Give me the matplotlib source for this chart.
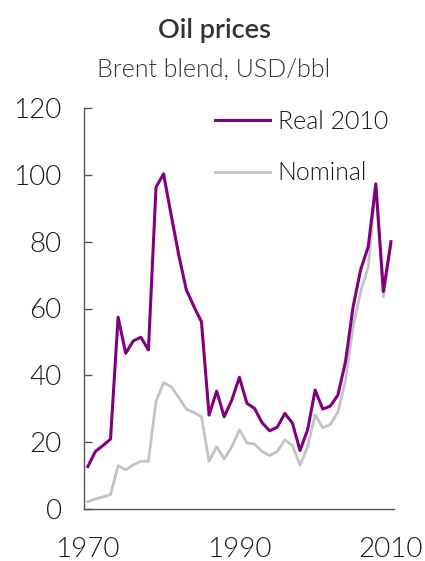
import matplotlib
matplotlib.use("Agg")
import matplotlib.pyplot as plt

years = list(range(1970, 2011))
real_2010 = [12.7, 17.2, 19.0, 20.9, 57.4, 46.6, 50.3, 51.4, 47.6, 96.3,
             100.3, 88.0, 76.0, 65.6, 60.6, 56.0, 28.1, 35.3, 27.6, 32.6,
             39.4, 31.6, 30.1, 25.8, 23.4, 24.5, 28.6, 25.7, 17.5, 23.7,
             35.6, 29.9, 30.8, 34.1, 44.1, 60.5, 71.6, 78.5, 97.3, 65.1, 80.0]
nominal = [2.2, 3.0, 3.6, 4.3, 13.0, 11.7, 13.2, 14.3, 14.3, 32.2,
           37.8, 36.6, 33.4, 29.9, 28.9, 27.6, 14.3, 18.6, 15.0, 18.6,
           23.7, 19.8, 19.4, 17.2, 16.0, 17.2, 20.7, 19.0, 13.1, 18.6,
           28.2, 24.3, 25.3, 29.0, 38.5, 54.5, 65.1, 72.4, 97.3, 63.5, 79.5]
series_names = ["Real 2010", "Nominal"]
x_ticks = [1970, 1990, 2010]
y_ticks = [0, 20, 40, 60, 80, 100, 120]
title = "Oil prices"
subtitle = "Brent blend, USD/bbl"

plt.rcParams['font.family'] = ['Lato', 'DejaVu Sans']

fig = plt.figure(figsize=(4.25, 5.61), dpi=100)
ax = fig.add_axes([84/425, 52/561, 310/425, 401/561])

ax.plot(years, nominal, color="#c3c3c3", lw=2.0, label=series_names[1], zorder=2)
ax.plot(years, real_2010, color="#800080", lw=2.2, label=series_names[0], zorder=3)

ax.set_xlim(1969.5, 2010.4)
ax.set_ylim(0, 120)
ax.set_xticks(x_ticks)
ax.set_yticks(y_ticks)
for s in ["top", "right"]:
    ax.spines[s].set_visible(False)
for s in ["left", "bottom"]:
    ax.spines[s].set_color("#555555")
    ax.spines[s].set_linewidth(1.0)
ax.tick_params(axis="y", direction="in", length=6, width=1.0, color="#555555",
               labelsize=20, labelcolor="#1a1a1a", pad=16)
ax.tick_params(axis="x", length=0, labelsize=20, labelcolor="#1a1a1a", pad=20)
for lab in ax.get_xticklabels() + ax.get_yticklabels():
    lab.set_fontweight(300)

handles, labels = ax.get_legend_handles_labels()
order = [1, 0]
leg = ax.legend([handles[i] for i in order], [labels[i] for i in order],
                loc="upper left", bbox_to_anchor=((215 - 84) / 310, (509 - 110) / 401),
                frameon=False, borderaxespad=0, borderpad=0,
                prop={"size": 18, "weight": 300}, handlelength=2.2,
                handletextpad=0.3, labelspacing=1.1, labelcolor="#1a1a1a")

fig.text(215/425, 1 - 38/561, title, ha="center", va="baseline", fontsize=19.5,
         fontweight=600, color="#333333")
fig.text(214/425, 1 - 77/561, subtitle, ha="center", va="baseline", fontsize=18,
         fontweight=300, color="#333333")

fig.savefig("out.png", dpi=100)
